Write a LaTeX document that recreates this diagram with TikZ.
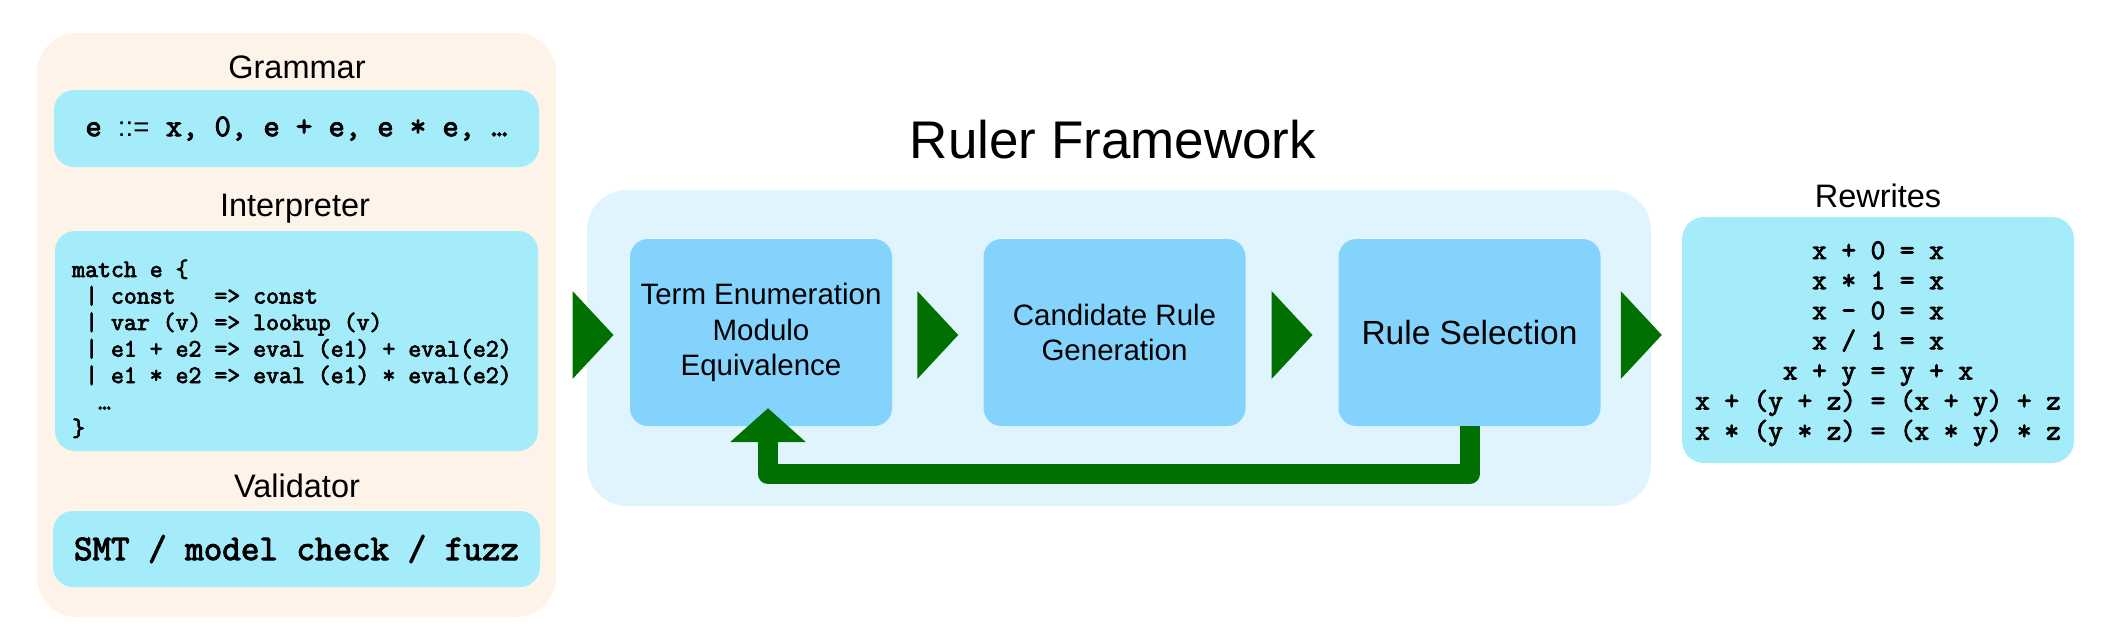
\documentclass[tikz,border=0pt]{standalone}
\usepackage{fontspec}
\setmainfont{Liberation Sans}
\setmonofont{Latin Modern Mono}[BoldFont={Latin Modern Mono}, BoldFeatures={FakeBold=3}]
\usetikzlibrary{arrows.meta,calc}

\definecolor{peach}{HTML}{FDF3E9}
\definecolor{codecyan}{HTML}{A5ECFA}
\definecolor{rulerbg}{HTML}{E0F4FD}
\definecolor{stepblue}{HTML}{83D3FD}
\definecolor{flowgreen}{HTML}{007000}

\begin{document}
\begin{tikzpicture}[x=1pt, y=-1pt,
  panel/.style = {rounded corners=40pt, inner sep=0pt},
  codebox/.style = {fill=codecyan, rounded corners=20pt, inner sep=0pt},
  stepbox/.style = {fill=stepblue, rounded corners=18pt, inner sep=0pt,
    minimum width=262pt, minimum height=187pt, align=center,
    font=\fontsize{29.5}{35.5}\selectfont},
  heading/.style = {anchor=base, inner sep=0pt,
    font=\fontsize{32.5}{39}\selectfont},
  code/.style = {inner sep=0pt, font=\ttfamily\bfseries\fontsize{25.1}{30}\selectfont},
  eqline/.style = {inner sep=0pt, font=\ttfamily\bfseries\fontsize{28.4}{34}\selectfont},
  flow/.style = {fill=flowgreen},
  loopback/.style = {draw=flowgreen, line width=20pt, line join=round,
    -{Triangle[width=74pt,length=34pt]}}]
  \useasboundingbox (0,0) rectangle (2110,632);

  % inputs
  \node[panel, fill=peach, minimum width=519pt, minimum height=584pt] (inputs) at (296.5,325) {};
  \node[heading] (grammartitle) at (297,78) {Grammar};
  \node[codebox, minimum width=485pt, minimum height=77pt] (grammar) at (296.5,128.5)
    {\ttfamily\bfseries\fontsize{31.6}{38}\selectfont e {\rmfamily\mdseries\fontsize{27.7}{33}\selectfont::=} x, 0, e + e, e * e, …};
  \node[heading] (interptitle) at (295,216) {Interpreter};
  \node[codebox, minimum width=483pt, minimum height=220pt] (interp) at (296.5,341) {};
  \foreach \ln [count=\i from 0] in {%
      match e \{,
      \ | const\ \ \ => const,
      \ | var (v) => lookup (v),
      \ | e1 + e2 => eval (e1) + eval(e2),
      \ | e1 * e2 => eval (e1) * eval(e2),
      \ \ …,
      \}}
    \node[code, anchor=base west] (code\i) at (72,277+26.5*\i) {\ln};
  \node[heading] (validtitle) at (297,497) {Validator};
  \node[codebox, minimum width=487pt, minimum height=76pt] (validator) at (296.5,549)
    {\ttfamily\bfseries\fontsize{36}{43}\selectfont SMT / model check / fuzz};

  % ruler
  \node[panel, fill=rulerbg, minimum width=1064pt, minimum height=316pt] (ruler) at (1119,348) {};
  \node[heading, font=\fontsize{53}{64}\selectfont] (rulertitle) at (1113,158) {Ruler Framework};
  \node[stepbox] (enum) at (761,332.5) {Term Enumeration\\Modulo\\Equivalence};
  \node[stepbox] (cand) at (1114.5,332.5) {Candidate Rule\\Generation};
  \node[stepbox, font=\fontsize{33.5}{40}\selectfont] (select) at (1469.5,332.5) {Rule Selection};

  % rewrites
  \node[heading] (rewritetitle) at (1878,207) {Rewrites};
  \node[codebox, rounded corners=22pt, minimum width=392pt, minimum height=246pt] (rewrites) at (1878,340) {};
  \foreach \ln [count=\i from 0] in {x + 0 = x, x * 1 = x, x - 0 = x, x / 1 = x,
      x + y = y + x, x + (y + z) = (x + y) + z, x * (y * z) = (x * y) * z}
    \node[eqline, anchor=base] (eq\i) at (1878,259+30.1*\i) {\ln};

  % flow
  \foreach \a/\b in {inputs/enum, enum/cand, cand/select, select/rewrites}
    \fill[flow] ($(\a.east |- enum.center)!0.5!(\b.west |- enum.center)$)
      ++(-20.5,-41.5) -- ++(41,44) -- ++(-41,44) -- cycle;
  \draw[loopback] (select.south) -- ++(0,48) -| ([xshift=7pt,yshift=18pt]enum.south);
\end{tikzpicture}
\end{document}
